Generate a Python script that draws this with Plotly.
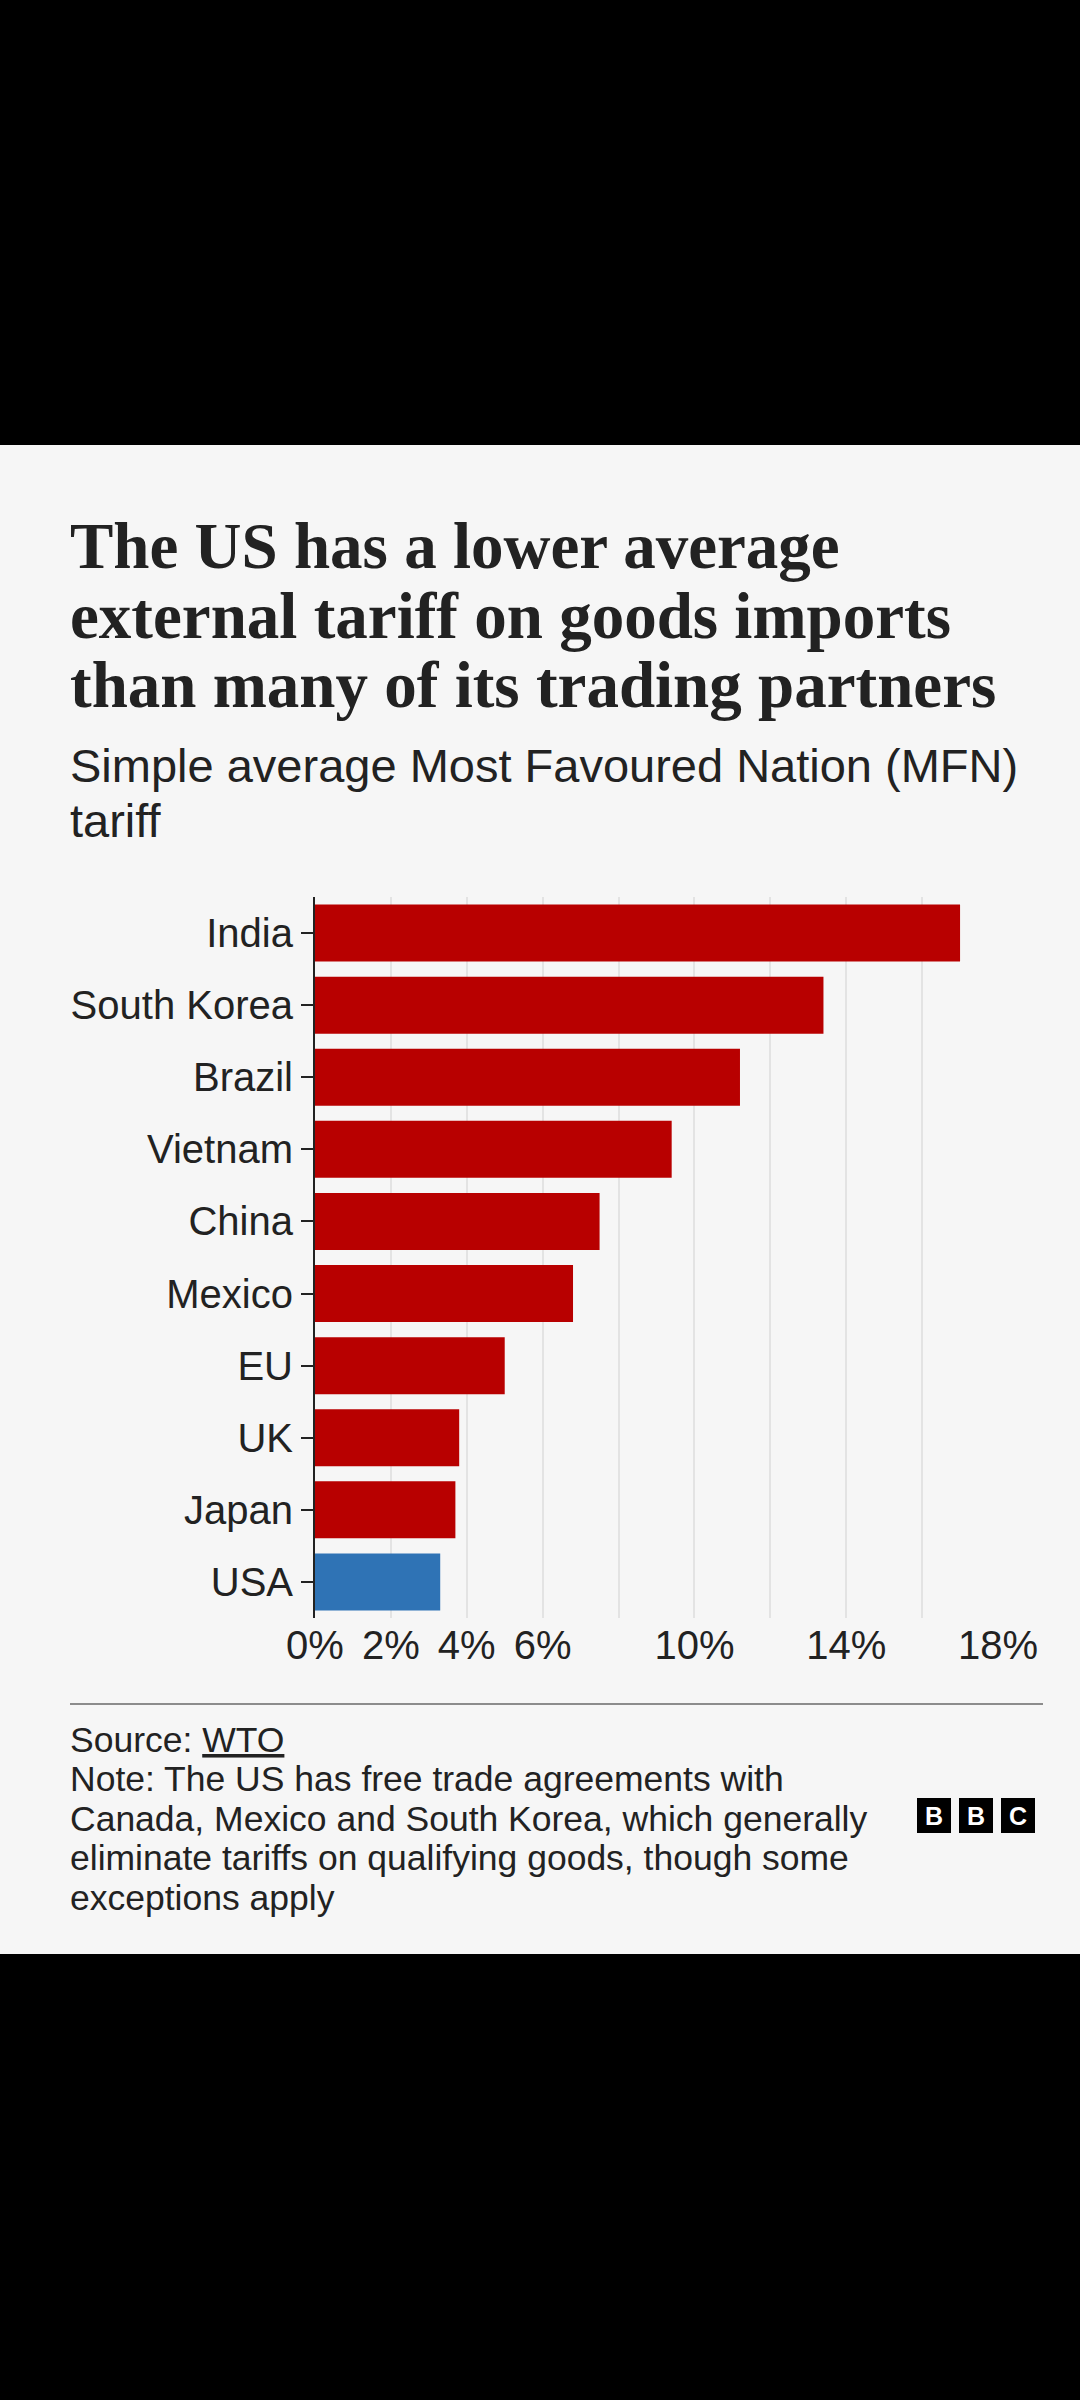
import plotly.graph_objects as go

# ---- data ----
countries = ["India", "South Korea", "Brazil", "Vietnam", "China", "Mexico", "EU", "UK", "Japan", "USA"]
tariffs = [17.0, 13.4, 11.2, 9.4, 7.5, 6.8, 5.0, 3.8, 3.7, 3.3]
tick_values = [0, 2, 4, 6, 10, 14, 18]
tick_labels = ["0%", "2%", "4%", "6%", "10%", "14%", "18%"]
extra_grid_values = [8, 12, 16]

title_lines = ["The US has a lower average",
               "external tariff on goods imports",
               "than many of its trading partners"]
subtitle_lines = ["Simple average Most Favoured Nation (MFN)", "tariff"]
footer_lines = ["Source: <u>WTO</u>",
                "Note: The US has free trade agreements with",
                "Canada, Mexico and South Korea, which generally",
                "eliminate tariffs on qualifying goods, though some",
                "exceptions apply"]

# ---- styling ----
W, H = 1080, 2400
RED = "#b80000"
BLUE = "#2f73b5"
BG = "#f6f6f6"
TXT = "#222222"
SANS = "Liberation Sans, Arial, sans-serif"
SERIF = "Liberation Serif, Times New Roman, serif"


def X(px):
    return px / W


def Y(py):
    return 1 - py / H


colors = [BLUE if c == "USA" else RED for c in countries]

fig = go.Figure(go.Bar(
    x=tariffs, y=countries, orientation="h",
    marker=dict(color=colors, line=dict(width=0)),
    hoverinfo="skip",
))

fig.update_layout(
    template="none",
    width=W, height=H,
    autosize=False,
    margin=dict(l=0, r=0, t=0, b=0, pad=0),
    paper_bgcolor=BG, plot_bgcolor=BG,
    showlegend=False,
    bargap=0.21,
    font=dict(family=SANS, color=TXT),
)

fig.update_xaxes(
    automargin=False,
    domain=[X(315), X(998)], range=[0, 18],
    tickvals=tick_values, ticktext=tick_labels,
    tickfont=dict(size=40, family=SANS, color=TXT),
    showgrid=True, gridcolor="#e3e3e3", gridwidth=1.5,
    minor=dict(tickvals=extra_grid_values, showgrid=True, gridcolor="#e3e3e3", gridwidth=1.5, ticks=""),
    zeroline=False, showline=False, ticks="", fixedrange=True,
)

fig.update_yaxes(
    automargin=False,
    domain=[Y(1618), Y(897)],
    categoryorder="array", categoryarray=countries, autorange="reversed",
    tickfont=dict(size=40, family=SANS, color=TXT),
    ticks="outside", ticklen=12, tickwidth=2, tickcolor=TXT,
    showline=True, linecolor=TXT, linewidth=2,
    showgrid=False, zeroline=False, fixedrange=True,
)

annotations = []
for i, line in enumerate(title_lines):
    base = [568, 638, 707][i]
    annotations.append(dict(
        text=f"<b>{line}</b>", x=X(68), y=Y(base - 0.34 * 65), xref="paper", yref="paper",
        xanchor="left", yanchor="middle", showarrow=False,
        font=dict(family=SERIF, size=65, color=TXT)))
for i, line in enumerate(subtitle_lines):
    base = [782, 837][i]
    annotations.append(dict(
        text=line, x=X(68), y=Y(base - 0.345 * 47), xref="paper", yref="paper",
        xanchor="left", yanchor="middle", showarrow=False,
        font=dict(family=SANS, size=47, color=TXT)))
for i, line in enumerate(footer_lines):
    base = 1752 + 39.5 * i
    annotations.append(dict(
        text=line, x=X(68), y=Y(base - 0.345 * 35.5), xref="paper", yref="paper",
        xanchor="left", yanchor="middle", showarrow=False,
        font=dict(family=SANS, size=35.5, color=TXT)))

shapes = [
    dict(type="line", xref="paper", yref="paper", x0=X(70), x1=X(1043), y0=Y(1704), y1=Y(1704),
         line=dict(color="#8c8c8c", width=2)),
    dict(type="rect", xref="paper", yref="paper", x0=0, x1=1, y0=Y(0), y1=Y(445),
         fillcolor="#000000", line=dict(width=0), layer="above"),
    dict(type="rect", xref="paper", yref="paper", x0=0, x1=1, y0=Y(1954), y1=Y(2400),
         fillcolor="#000000", line=dict(width=0), layer="above"),
]

for x0, letter in zip([917, 959, 1001], ["B", "B", "C"]):
    shapes.append(dict(type="rect", xref="paper", yref="paper", x0=X(x0), x1=X(x0 + 34),
                       y0=Y(1833), y1=Y(1798), fillcolor="#000000", line=dict(width=0)))
    annotations.append(dict(text=f"<b>{letter}</b>", x=X(x0 + 17), y=Y(1815.5), xref="paper", yref="paper",
                            xanchor="center", yanchor="middle", showarrow=False,
                            font=dict(family=SANS, size=25, color="#ffffff")))

fig.update_layout(annotations=annotations, shapes=shapes)

fig.write_html(
    "out.html",
    config={"displayModeBar": False},
    post_script="document.body.style.margin='0';document.body.style.padding='0';"
                "document.body.style.background='#000';document.documentElement.style.background='#000';",
)
